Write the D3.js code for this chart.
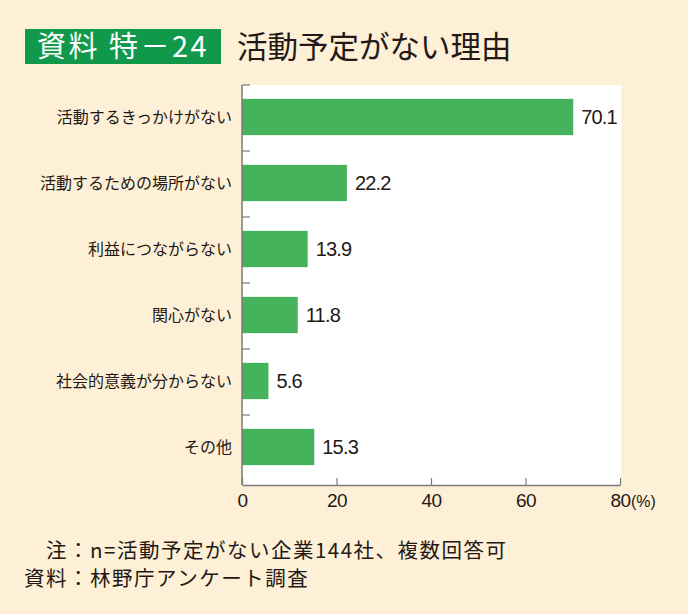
<!DOCTYPE html>
<html><head><meta charset="utf-8">
<script src="https://cdn.jsdelivr.net/npm/d3@7"></script>
<style>
html,body{margin:0;padding:0;background:#fdf0d6;}
svg{display:block;}
</style></head>
<body>
<script>
const categories = ["活動するきっかけがない","活動するための場所がない","利益につながらない","関心がない","社会的意義が分からない","その他"];
const values = [70.1, 22.2, 13.9, 11.8, 5.6, 15.3];
const xTicks = [0, 20, 40, 60, 80];
const titleBadge = "資料 特－24";
const titleText = "活動予定がない理由";
const notes = ["注：n=活動予定がない企業144社、複数回答可", "資料：林野庁アンケート調査"];

const W = 688, H = 614;
const svg = d3.select("body").append("svg").attr("width", W).attr("height", H);
svg.append("rect").attr("width", W).attr("height", H).attr("fill", "#fdf0d6");

const cjk = "'Noto Sans CJK JP', 'Noto Sans', sans-serif";
const num = "'Liberation Sans', Arial, sans-serif";
const ink = "#231815";

// Title
svg.append("rect").attr("x", 25).attr("y", 29).attr("width", 196).attr("height", 35).attr("fill", "#10994a");
svg.append("text").attr("x", 123).attr("y", 57).attr("text-anchor", "middle")
  .attr("fill", "#fff").attr("font-family", cjk).attr("font-size", 29).attr("letter-spacing", 2.5).text(titleBadge);
svg.append("text").attr("x", 237).attr("y", 58).attr("fill", ink)
  .attr("font-family", cjk).attr("font-size", 30.5).text(titleText);

// Scales
const x = d3.scaleLinear().domain([0, 80]).range([242, 620]);
const y = d3.scaleBand().domain(categories).range([84, 480]).paddingInner(0.45).paddingOuter(0.225);

// Plot background
svg.append("rect").attr("x", x(0)).attr("y", 85).attr("width", 621 - x(0)).attr("height", 400).attr("fill", "#ffffff");

// Bars
svg.append("g").selectAll("rect").data(values).join("rect")
  .attr("x", x(0)).attr("y", (d, i) => y(categories[i]))
  .attr("width", d => x(d) - x(0)).attr("height", y.bandwidth())
  .attr("fill", "#45b35c");

// Value labels
svg.append("g").selectAll("text").data(values).join("text")
  .attr("x", d => x(d) + 8).attr("y", (d, i) => y(categories[i]) + y.bandwidth() / 2 + 7)
  .attr("font-family", num).attr("font-size", 20).attr("letter-spacing", -0.8).attr("fill", ink)
  .text(d => d.toFixed(1));

// Category labels
svg.append("g").selectAll("text").data(categories).join("text")
  .attr("x", 232).attr("y", d => y(d) + y.bandwidth() / 2 + 6)
  .attr("text-anchor", "end").attr("font-family", cjk).attr("font-size", 16).attr("fill", ink)
  .text(d => d);

// Left axis
const axisColor = "#7a7a7a";
svg.append("line").attr("x1", x(0)).attr("x2", x(0)).attr("y1", 85).attr("y2", 485)
  .attr("stroke", axisColor).attr("stroke-width", 1.5);
const bounds = categories.map(c => y(c) - y.step() * y.paddingInner() / 2);
svg.append("g").selectAll("line").data(bounds).join("line")
  .attr("x1", x(0)).attr("x2", x(0) + 8).attr("y1", d => d + 1).attr("y2", d => d + 1)
  .attr("stroke", axisColor).attr("stroke-width", 1.2);

// Bottom axis
const gx = svg.append("g").attr("transform", "translate(0,485)")
  .call(d3.axisBottom(x).tickValues(xTicks).tickSizeInner(-7).tickSizeOuter(0).tickPadding(9).tickFormat(d3.format("d")));
gx.select(".domain").attr("stroke", axisColor).attr("stroke-width", 1.5);
gx.selectAll(".tick line").attr("stroke", axisColor).attr("stroke-width", 1.2);
gx.selectAll(".tick text").attr("font-family", num).attr("font-size", 19).attr("letter-spacing", -0.5).attr("fill", ink);
svg.append("text").attr("x", x(80) + 11).attr("y", 507).attr("font-family", num)
  .attr("font-size", 16).attr("fill", ink).text("(%)");

// Notes
svg.append("text").attr("x", 46).attr("y", 558).attr("font-family", cjk).attr("font-size", 20.5)
  .attr("letter-spacing", 1.5).attr("fill", ink).text(notes[0]);
svg.append("text").attr("x", 24).attr("y", 586).attr("font-family", cjk).attr("font-size", 20.5)
  .attr("letter-spacing", 1.5).attr("fill", ink).text(notes[1]);
</script>
</body></html>
